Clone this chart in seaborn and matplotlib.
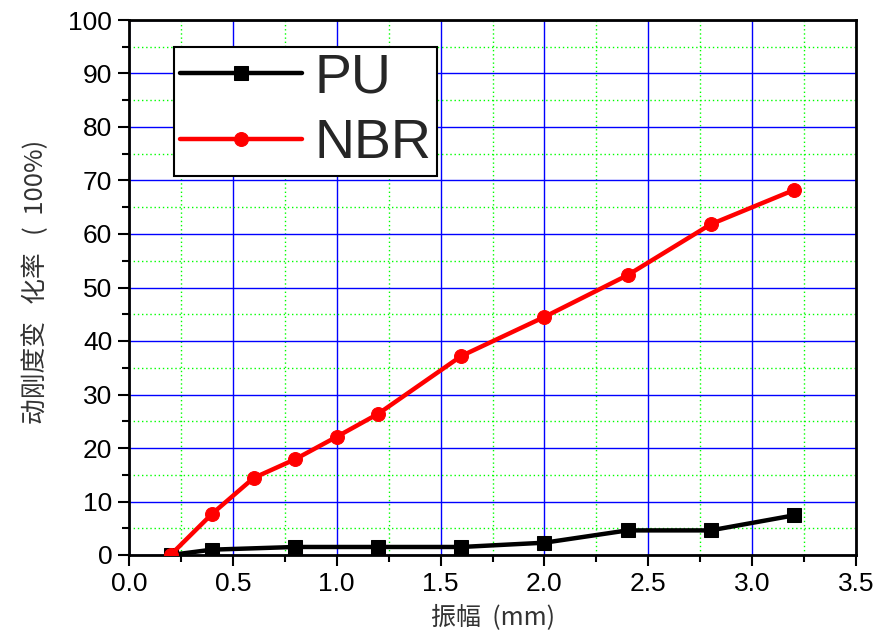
import numpy as np
import pandas as pd
import matplotlib
matplotlib.use("Agg")
import matplotlib.pyplot as plt
import seaborn as sns
from matplotlib.ticker import MultipleLocator

# data
pu_x = [0.2, 0.4, 0.8, 1.2, 1.6, 2.0, 2.4, 2.8, 3.2]
pu_y = [0.0, 1.0, 1.5, 1.5, 1.5, 2.3, 4.6, 4.6, 7.4]
nbr_x = [0.2, 0.4, 0.6, 0.8, 1.0, 1.2, 1.6, 2.0, 2.4, 2.8, 3.2]
nbr_y = [0.0, 7.7, 14.4, 17.9, 22.1, 26.4, 37.2, 44.5, 52.3, 61.8, 68.2]
series_names = ["PU", "NBR"]
x_label = "振幅  (mm)"
y_label = "动刚度变   化率   (  100%)"

df = pd.concat([
    pd.DataFrame({"x": pu_x, "y": pu_y, "series": "PU"}),
    pd.DataFrame({"x": nbr_x, "y": nbr_y, "series": "NBR"}),
], ignore_index=True)

sns.set_theme(style="white")
plt.rcParams["font.family"] = ["Liberation Sans", "Noto Sans CJK SC", "DejaVu Sans"]

fig = plt.figure(figsize=(8.88, 6.39), dpi=100)
ax = fig.add_axes([129/888, 1-555/639, 727/888, 535/639])

sns.lineplot(data=df, x="x", y="y", hue="series", style="series",
             hue_order=series_names, style_order=series_names,
             palette={"PU": "black", "NBR": "red"},
             markers={"PU": "s", "NBR": "o"}, dashes=False,
             linewidth=3.2, markersize=10, ax=ax, zorder=3)
for ln in ax.lines:
    ln.set_markeredgecolor(ln.get_color())

ax.set_xlim(0, 3.5)
ax.set_ylim(0, 100)
ax.xaxis.set_major_locator(MultipleLocator(0.5))
ax.xaxis.set_minor_locator(MultipleLocator(0.25))
ax.yaxis.set_major_locator(MultipleLocator(10))
ax.yaxis.set_minor_locator(MultipleLocator(5))
ax.xaxis.set_major_formatter(matplotlib.ticker.FormatStrFormatter("%.1f"))

ax.set_axisbelow(True)
ax.grid(which="major", color="#0000ff", linestyle="-", linewidth=1)
ax.grid(which="minor", color="#00ff00", linestyle=(0, (1, 2)), linewidth=1)

for s in ax.spines.values():
    s.set_visible(True)
    s.set_color("black")
    s.set_linewidth(2)

ax.tick_params(axis="both", which="major", direction="out", length=8, width=1.5,
               color="black", labelsize=19, labelcolor="black", pad=4,
               bottom=True, left=True, top=False, right=False)
ax.tick_params(axis="both", which="minor", direction="out", length=5, width=1.5,
               color="black", bottom=True, left=True, top=False, right=False)

ax.set_xlabel(x_label, fontsize=18, family=["Noto Sans CJK SC", "DejaVu Sans"],
              color="#333333", labelpad=6)
ax.set_ylabel(y_label, fontsize=18.5, family=["Noto Sans CJK SC", "DejaVu Sans"],
              color="#333333")
ax.yaxis.set_label_coords(-0.11, 0.51)

handles, labels = ax.get_legend_handles_labels()
leg = ax.legend(handles, labels, loc="upper left", bbox_to_anchor=(0.062, 0.95),
                fontsize=40, frameon=True, fancybox=False, edgecolor="black",
                handlelength=2.2, handletextpad=0.22, borderpad=0.1,
                labelspacing=0.25, borderaxespad=0)
leg.get_frame().set_linewidth(1.5)
leg.get_frame().set_alpha(1)

fig.savefig("out.png", dpi=100)
